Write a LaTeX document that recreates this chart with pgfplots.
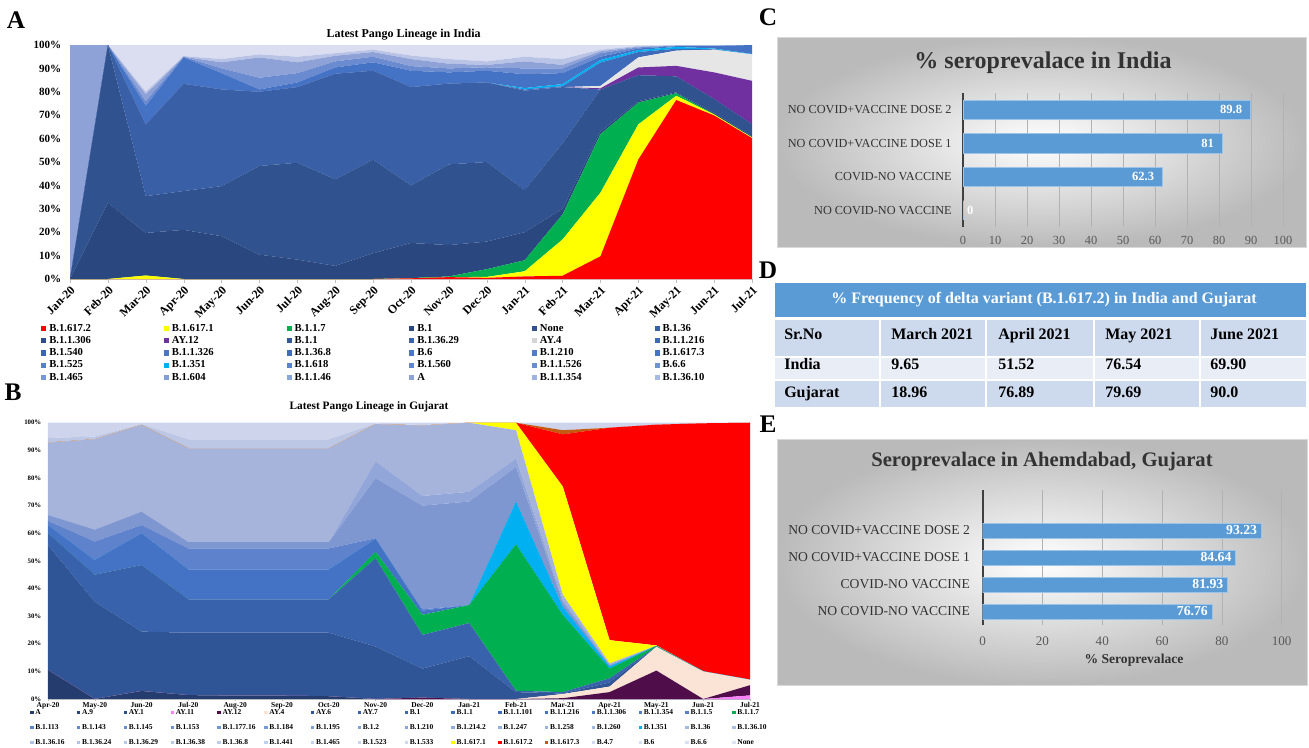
\documentclass[border=0pt]{standalone}
\usepackage{fontspec}
\setmainfont{Liberation Serif}
\usepackage{pgfplots}
\usepackage{pgfplotstable}
\pgfplotsset{compat=1.18}

% India layers
\definecolor{cR}{HTML}{FF0000}
\definecolor{cY}{HTML}{FFFF00}
\definecolor{cG}{HTML}{00B050}
\definecolor{cN1}{HTML}{2B4780}
\definecolor{cN2}{HTML}{30528F}
\definecolor{cM}{HTML}{3960A6}
\definecolor{cP}{HTML}{7030A0}
\definecolor{cA4}{HTML}{E6E6E6}
\definecolor{cB1}{HTML}{3F6ABA}
\definecolor{cC}{HTML}{00B0F0}
\definecolor{cB2}{HTML}{4472C4}
\definecolor{cL1}{HTML}{6A8BD0}
\definecolor{cL2}{HTML}{8FA2D8}
\definecolor{cL3}{HTML}{B9C3E6}
\definecolor{cL4}{HTML}{DADEF0}
% Gujarat layers
\definecolor{gA}{HTML}{243D6E}
\definecolor{gAY11}{HTML}{FF80FF}
\definecolor{gAY12}{HTML}{4F0D4A}
\definecolor{gAY4}{HTML}{FBE3D5}
\definecolor{gN}{HTML}{2F5597}
\definecolor{gN2}{HTML}{3862AC}
\definecolor{gB}{HTML}{4472C4}
\definecolor{gP1}{HTML}{5F82CC}
\definecolor{gP2}{HTML}{7F97D1}
\definecolor{gP3}{HTML}{93A6D9}
\definecolor{gLV}{HTML}{A6B4DC}
\definecolor{gBR}{HTML}{C55A11}
\definecolor{gLV2}{HTML}{BCC6E5}
\definecolor{gPL}{HTML}{CDD4EB}
% bars / table
\definecolor{cBar}{HTML}{5B9BD5}
\definecolor{cBarL}{HTML}{9DC3E6}
\definecolor{cHead}{HTML}{5B9BD5}
\definecolor{cRowA}{HTML}{CDD9ED}
\definecolor{cRowB}{HTML}{E8EDF6}

\pgfplotstableread{
x  R    Y    G    N1   N2   M    P    A4   B1   C    B2   L1   L2   L3   L4
0  0    0    0    0    0    0    0    0    0    0    0    0    100  0    0
1  0    0    0    32.6 67.4 0    0    0    0    0    0    0    0    0    0
2  0    1.5  0    18.2 15.7 30.6 0    0    0    0    8    2    3    1    20
3  0    0    0    21   16.6 45.8 0    0    0    0    11.3 0.3  0    0.3  4.7
4  0    0    0    18.3 21.4 41.3 0    0    0    0    7    2    2.6  1.4  6
5  0    0    0    10.4 37.9 31.7 0    0    0    0    1    5    8.7  1.3  4
6  0    0    0    8.3  41.4 32.3 0    0    0    0    2    4    4.6  2.4  5
7  0    0    0    5.6  37   45.1 0    0    0    0    2.7  2.6  2.4  1.1  3.5
8  0    0    0    11   40   38   0    0    0    0    3.6  2.4  2    1    2
9  0.3  0    0.1  15   24.6 42   0    0    0    0    7    2    3    1.5  4.5
10 0.8  0    0.3  13.4 34.5 34.5 0    0    0    0    4.8  1.7  2    2    6
11 0.5  0.4  3.3  11.8 34   34   0    0    0    0    5    1.5  1    1.5  7
12 1.1  2.2  4.7  12   18   42.5 0    0    0.5  0.6  5.9  2.5  3    2    5
13 1.4  15.5 10.7 2.4  28   24   0    0    0.4  0.9  4.7  2    1.5  2.5  6
14 9.7  27.2 25   1.1  18   0    0.5  1    10   1.1  1.4  1.5  0.8  0.7  2
15 51.1 15   9.3  0.6  11.1 0    3.3  4.3  2.3  0.8  0.7  0.5  0.3  0.3  0.4
16 76.5 1.8  1.1  0.4  6.8  0    4.5  6.5  0.8  0.8  0.3  0.2  0.1  0.1  0.1
17 69.9 0.4  0.1  0.6  5.9  0    11.4 9.7  0.2  0.3  1.0  0.2  0.1  0.1  0.1
18 60.2 0.3  0.1  0.4  5.1  0    18.6 11.3 0    0.2  3.8  0    0    0    0
}\tabIN

\pgfplotstableread{
x  a    ay11 ay12 ay4  n    n2   g    b    c    p1   p2   p3   lv   y    r    br   lv2  pl
0  10.5 0    0    0    45.2 4.3  0    3    0    1.5  2.1  0    26.2 0    0    0    1.7  5.5
1  0    0    0    0    35.2 9.8  0    5.3  0    6.7  4.3  0    32.7 0    0    0    1.0  5.0
2  2.9  0    0    0    21.5 24.1 0    11.5 0    3    4.8  0    31.4 0    0    0    0.3  0.5
3  1.4  0    0    0    22.6 12.1 0    10.8 0    7.6  2.3  0    33.9 0    0    0    3.3  6
4  1.2  0    0    0    22.8 12.1 0    10.8 0    7.6  2.3  0    33.9 0    0    0    3.3  6
5  1.2  0    0    0    22.8 12.1 0    10.8 0    7.6  2.3  0    33.9 0    0    0    3.3  6
6  1.0  0    0    0    23   12.1 0    10.8 0    7.6  2.3  0    33.9 0    0    0    3.3  6
7  0    0    0    0    19   32   2.3  4.7  0    0.2  21.8 6    13.5 0    0    0    0.2  0.3
8  0    0    0.5  0    10.5 12.2 7.3  1.5  0    0.5  37.5 3.5  25.5 0    0    0    0.2  0.8
9  0    0    0    0    15.5 12   6.5  0    0    0    37.5 3.5  25   0    0    0    0    0
10 0    0    0    0    2.5  0.5  53   0    15.5 0    12.5 3    10.3 2.7  0    0    0    0
11 0    0    0.3  1.5  0.2  0.5  27.9 0    3    0    1.6  1    1.7  39.2 18.9 1.5  0    2.7
12 0    0    2.5  2.0  1.5  1.5  3.5  0    0.8  0    0.4  0.3  0.4  8.4  76.9 0    0    1.8
13 0    0    10.3 8.6  0    0    0.3  0    0    0    0    0.1  0    0.1  79.9 0    0    0.7
14 0    0    0    10   0    0    0    0    0    0    0    0    0    0    89.8 0    0    0.2
15 0    1.3  3.7  2.0  0    0    0    0    0    0    0    0    0    0    93   0    0    0
}\tabGU

\pgfplotstableread{
y v
0 0
1 62.3
2 81
3 89.8
}\tabC

\pgfplotstableread{
y v
0 76.76
1 81.93
2 84.64
3 93.23
}\tabE

\begin{document}
\begin{tikzpicture}
\useasboundingbox (0,0) rectangle (981.75pt,-560.25pt);

% ---------- panel labels ----------
\node[font=\bfseries\fontsize{19}{20}\selectfont] at (12pt,-15pt) {A};
\node[font=\bfseries\fontsize{19}{20}\selectfont] at (9.75pt,-294pt) {B};
\node[font=\bfseries\fontsize{19}{20}\selectfont] at (576pt,-12.75pt) {C};
\node[font=\bfseries\fontsize{19}{20}\selectfont] at (576pt,-203pt) {D};
\node[font=\bfseries\fontsize{19}{20}\selectfont] at (576pt,-318.5pt) {E};

% ---------- panel A ----------
\node[font=\bfseries\fontsize{9}{10}\selectfont] at (302.7pt,-25.7pt) {Latest Pango Lineage in India};
\begin{axis}[
  at={(52.5pt,-209.25pt)}, anchor=south west,
  scale only axis, width=511.5pt, height=175.5pt,
  xmin=0, xmax=18, ymin=0, ymax=100,
  stack plots=y,
  axis x line*=bottom, axis y line*=left,
  x axis line style={draw=black!20,-},
  y axis line style={draw=none,-},
  xtick={0,...,18},
  xticklabels={Jan-20,Feb-20,Mar-20,Apr-20,May-20,Jun-20,Jul-20,Aug-20,Sep-20,Oct-20,Nov-20,Dec-20,Jan-21,Feb-21,Mar-21,Apr-21,May-21,Jun-21,Jul-21},
  xticklabel style={rotate=45, anchor=north east, font=\bfseries\fontsize{9}{10}\selectfont, inner sep=1pt},
  ytick={0,10,...,100},
  yticklabel={\pgfmathprintnumber{\tick}\%},
  yticklabel style={font=\bfseries\fontsize{8.3}{9}\selectfont},
  /pgf/number format/assume math mode=true,
  ytick style={draw=none},
  xtick style={draw=black!25},
  tick align=outside, major tick length=3pt,
  legend columns=6,
  legend cell align=left,
  legend image code/.code={\path[#1,draw=none] (0pt,-1.9pt) rectangle (3.8pt,1.9pt);},
  legend style={at={(-0.0425,-0.184)}, anchor=north west, draw=none, fill=none,
     inner sep=0pt, row sep=0pt,
     font=\bfseries\fontsize{8}{9}\selectfont,
     nodes={text width=85pt, inner xsep=1pt, inner ysep=0pt, text height=6.6pt, text depth=2.6pt},
     /tikz/every odd column/.append style={column sep=1.2pt}},
]
\addplot[fill=cR, draw=none, forget plot] table[x=x,y=R]{\tabIN} \closedcycle;
\addplot[fill=cY, draw=none, forget plot] table[x=x,y=Y]{\tabIN} \closedcycle;
\addplot[fill=cG, draw=none, forget plot] table[x=x,y=G]{\tabIN} \closedcycle;
\addplot[fill=cN1, draw=none, forget plot] table[x=x,y=N1]{\tabIN} \closedcycle;
\addplot[fill=cN2, draw=none, forget plot] table[x=x,y=N2]{\tabIN} \closedcycle;
\addplot[fill=cM, draw=none, forget plot] table[x=x,y=M]{\tabIN} \closedcycle;
\addplot[fill=cP, draw=none, forget plot] table[x=x,y=P]{\tabIN} \closedcycle;
\addplot[fill=cA4, draw=none, forget plot] table[x=x,y=A4]{\tabIN} \closedcycle;
\addplot[fill=cB1, draw=none, forget plot] table[x=x,y=B1]{\tabIN} \closedcycle;
\addplot[fill=cC, draw=none, forget plot] table[x=x,y=C]{\tabIN} \closedcycle;
\addplot[fill=cB2, draw=none, forget plot] table[x=x,y=B2]{\tabIN} \closedcycle;
\addplot[fill=cL1, draw=none, forget plot] table[x=x,y=L1]{\tabIN} \closedcycle;
\addplot[fill=cL2, draw=none, forget plot] table[x=x,y=L2]{\tabIN} \closedcycle;
\addplot[fill=cL3, draw=none, forget plot] table[x=x,y=L3]{\tabIN} \closedcycle;
\addplot[fill=cL4, draw=none, forget plot] table[x=x,y=L4]{\tabIN} \closedcycle;
% legend
\addlegendimage{fill=cR}\addlegendentry{B.1.617.2}
\addlegendimage{fill=cY}\addlegendentry{B.1.617.1}
\addlegendimage{fill=cG}\addlegendentry{B.1.1.7}
\addlegendimage{fill=cN1}\addlegendentry{B.1}
\addlegendimage{fill=cN2}\addlegendentry{None}
\addlegendimage{fill=cM}\addlegendentry{B.1.36}
\addlegendimage{fill=cN1!85!cB2}\addlegendentry{B.1.1.306}
\addlegendimage{fill=cP}\addlegendentry{AY.12}
\addlegendimage{fill=cN2!85!cB2}\addlegendentry{B.1.1}
\addlegendimage{fill=cM!85!cB2}\addlegendentry{B.1.36.29}
\addlegendimage{fill=cA4!92!black}\addlegendentry{AY.4}
\addlegendimage{fill=cB1}\addlegendentry{B.1.1.216}
\addlegendimage{fill=cM!70!cB2}\addlegendentry{B.1.540}
\addlegendimage{fill=cB1!92!white}\addlegendentry{B.1.1.326}
\addlegendimage{fill=cB2!95!black}\addlegendentry{B.1.36.8}
\addlegendimage{fill=cB2!97!white}\addlegendentry{B.6}
\addlegendimage{fill=cB2!93!white}\addlegendentry{B.1.210}
\addlegendimage{fill=cB2}\addlegendentry{B.1.617.3}
\addlegendimage{fill=cB2!90!white}\addlegendentry{B.1.525}
\addlegendimage{fill=cC}\addlegendentry{B.1.351}
\addlegendimage{fill=cB2!88!white}\addlegendentry{B.1.618}
\addlegendimage{fill=cB2!85!white}\addlegendentry{B.1.560}
\addlegendimage{fill=cB2!80!white}\addlegendentry{B.1.1.526}
\addlegendimage{fill=cB2!77!white}\addlegendentry{B.6.6}
\addlegendimage{fill=cB2!72!white}\addlegendentry{B.1.465}
\addlegendimage{fill=cB2!68!white}\addlegendentry{B.1.604}
\addlegendimage{fill=cB2!63!white}\addlegendentry{B.1.1.46}
\addlegendimage{fill=cL2}\addlegendentry{A}
\addlegendimage{fill=cB2!53!white}\addlegendentry{B.1.1.354}
\addlegendimage{fill=cB2!48!white}\addlegendentry{B.1.36.10}
\end{axis}

% ---------- panel B ----------
\node[font=\bfseries\fontsize{8.5}{10}\selectfont] at (276.75pt,-305pt) {Latest Pango Lineage in Gujarat};
\begin{axis}[
  at={(36pt,-524.25pt)}, anchor=south west,
  scale only axis, width=526.5pt, height=207.2pt,
  xmin=0, xmax=15, ymin=0, ymax=100,
  stack plots=y,
  axis x line*=bottom, axis y line*=left,
  x axis line style={draw=black!20,-},
  y axis line style={draw=none,-},
  xtick={0,...,15},
  xticklabels={Apr-20,May-20,Jun-20,Jul-20,Aug-20,Sep-20,Oct-20,Nov-20,Dec-20,Jan-21,Feb-21,Mar-21,Apr-21,May-21,Jun-21,Jul-21},
  xticklabel style={font=\bfseries\fontsize{5.6}{6}\selectfont, inner sep=0.5pt, yshift=-0.6pt},
  ytick={0,10,...,100},
  yticklabel={\pgfmathprintnumber{\tick}\%},
  yticklabel style={font=\bfseries\fontsize{5.1}{6}\selectfont},
  /pgf/number format/assume math mode=true,
  ytick style={draw=none},
  xtick style={draw=black!25},
  tick align=outside, major tick length=1.5pt,
  legend columns=16,
  legend cell align=left,
  legend image code/.code={\path[#1,draw=none] (0pt,-1.2pt) rectangle (2.5pt,1.2pt);},
  legend style={at={(-0.0256,-0.034)}, anchor=north west, draw=none, fill=none,
     inner sep=0pt, row sep=5.25pt,
     font=\bfseries\fontsize{5.6}{6}\selectfont,
     nodes={text width=31pt, inner xsep=0.3pt, inner ysep=0pt, text height=4.3pt, text depth=1.7pt},
     /tikz/every odd column/.append style={column sep=1pt}},
]
\addplot[fill=gA, draw=none, forget plot] table[x=x,y=a]{\tabGU} \closedcycle;
\addplot[fill=gAY11, draw=none, forget plot] table[x=x,y=ay11]{\tabGU} \closedcycle;
\addplot[fill=gAY12, draw=none, forget plot] table[x=x,y=ay12]{\tabGU} \closedcycle;
\addplot[fill=gAY4, draw=none, forget plot] table[x=x,y=ay4]{\tabGU} \closedcycle;
\addplot[fill=gN, draw=none, forget plot] table[x=x,y=n]{\tabGU} \closedcycle;
\addplot[fill=gN2, draw=none, forget plot] table[x=x,y=n2]{\tabGU} \closedcycle;
\addplot[fill=cG, draw=none, forget plot] table[x=x,y=g]{\tabGU} \closedcycle;
\addplot[fill=gB, draw=none, forget plot] table[x=x,y=b]{\tabGU} \closedcycle;
\addplot[fill=cC, draw=none, forget plot] table[x=x,y=c]{\tabGU} \closedcycle;
\addplot[fill=gP1, draw=none, forget plot] table[x=x,y=p1]{\tabGU} \closedcycle;
\addplot[fill=gP2, draw=none, forget plot] table[x=x,y=p2]{\tabGU} \closedcycle;
\addplot[fill=gP3, draw=none, forget plot] table[x=x,y=p3]{\tabGU} \closedcycle;
\addplot[fill=gLV, draw=none, forget plot] table[x=x,y=lv]{\tabGU} \closedcycle;
\addplot[fill=cY, draw=none, forget plot] table[x=x,y=y]{\tabGU} \closedcycle;
\addplot[fill=cR, draw=none, forget plot] table[x=x,y=r]{\tabGU} \closedcycle;
\addplot[fill=gBR, draw=none, forget plot] table[x=x,y=br]{\tabGU} \closedcycle;
\addplot[fill=gLV2, draw=none, forget plot] table[x=x,y=lv2]{\tabGU} \closedcycle;
\addplot[fill=gPL, draw=none, forget plot] table[x=x,y=pl]{\tabGU} \closedcycle;
% legend row 1
\addlegendimage{fill=gA}\addlegendentry{A}
\addlegendimage{fill=gA!60!gN}\addlegendentry{A.9}
\addlegendimage{fill=gA!30!gN}\addlegendentry{AY.1}
\addlegendimage{fill=gAY11}\addlegendentry{AY.11}
\addlegendimage{fill=gAY12}\addlegendentry{AY.12}
\addlegendimage{fill=gAY4}\addlegendentry{AY.4}
\addlegendimage{fill=gN}\addlegendentry{AY.6}
\addlegendimage{fill=gN2}\addlegendentry{AY.7}
\addlegendimage{fill=gN2!70!gB}\addlegendentry{B.1}
\addlegendimage{fill=gN2!40!gB}\addlegendentry{B.1.1}
\addlegendimage{fill=gB!95!black}\addlegendentry{B.1.1.101}
\addlegendimage{fill=gB}\addlegendentry{B.1.1.216}
\addlegendimage{fill=gB!96!white}\addlegendentry{B.1.1.306}
\addlegendimage{fill=gB!93!white}\addlegendentry{B.1.1.354}
\addlegendimage{fill=gB!90!white}\addlegendentry{B.1.1.5}
\addlegendimage{fill=cG}\addlegendentry{B.1.1.7}
% row 2
\addlegendimage{fill=gB!87!white}\addlegendentry{B.1.113}
\addlegendimage{fill=gB!84!white}\addlegendentry{B.1.143}
\addlegendimage{fill=gB!81!white}\addlegendentry{B.1.145}
\addlegendimage{fill=gB!78!white}\addlegendentry{B.1.153}
\addlegendimage{fill=gB!75!white}\addlegendentry{B.1.177.16}
\addlegendimage{fill=gB!72!white}\addlegendentry{B.1.184}
\addlegendimage{fill=gB!69!white}\addlegendentry{B.1.195}
\addlegendimage{fill=gB!66!white}\addlegendentry{B.1.2}
\addlegendimage{fill=gB!63!white}\addlegendentry{B.1.210}
\addlegendimage{fill=gB!60!white}\addlegendentry{B.1.214.2}
\addlegendimage{fill=gB!57!white}\addlegendentry{B.1.247}
\addlegendimage{fill=gB!54!white}\addlegendentry{B.1.258}
\addlegendimage{fill=gB!51!white}\addlegendentry{B.1.260}
\addlegendimage{fill=cC}\addlegendentry{B.1.351}
\addlegendimage{fill=gB!48!white}\addlegendentry{B.1.36}
\addlegendimage{fill=gB!45!white}\addlegendentry{B.1.36.10}
% row 3
\addlegendimage{fill=gB!43!white}\addlegendentry{B.1.36.16}
\addlegendimage{fill=gB!41!white}\addlegendentry{B.1.36.24}
\addlegendimage{fill=gB!39!white}\addlegendentry{B.1.36.29}
\addlegendimage{fill=gB!37!white}\addlegendentry{B.1.36.38}
\addlegendimage{fill=gB!35!white}\addlegendentry{B.1.36.8}
\addlegendimage{fill=gB!33!white}\addlegendentry{B.1.441}
\addlegendimage{fill=gB!31!white}\addlegendentry{B.1.465}
\addlegendimage{fill=gB!29!white}\addlegendentry{B.1.523}
\addlegendimage{fill=gB!27!white}\addlegendentry{B.1.533}
\addlegendimage{fill=cY}\addlegendentry{B.1.617.1}
\addlegendimage{fill=cR}\addlegendentry{B.1.617.2}
\addlegendimage{fill=gBR}\addlegendentry{B.1.617.3}
\addlegendimage{fill=gB!25!white}\addlegendentry{B.4.7}
\addlegendimage{fill=gB!23!white}\addlegendentry{B.6}
\addlegendimage{fill=gB!21!white}\addlegendentry{B.6.6}
\addlegendimage{fill=gB!18!white}\addlegendentry{None}
\end{axis}

% ---------- panel C ----------
\shade[inner color=white, outer color=black!27] (582.75pt,-27.75pt) rectangle (979.5pt,-185.25pt);
\draw[black!15, line width=0.6pt] (582.75pt,-27.75pt) rectangle (979.5pt,-185.25pt);
\node[font=\bfseries\fontsize{18}{20}\selectfont, text=black!80] at (782.25pt,-47.25pt) {\% seroprevalace in India};
\begin{axis}[
  at={(722.25pt,-170.25pt)}, anchor=south west,
  scale only axis, width=240pt, height=100.5pt,
  xbar, bar width=14.5pt,
  xmin=0, xmax=100, ymin=-0.5, ymax=3.5,
  xtick={0,10,...,100},
  ytick={0,1,2,3},
  yticklabels={NO COVID-NO VACCINE, COVID-NO VACCINE, NO COVID+VACCINE DOSE 1, NO COVID+VACCINE DOSE 2},
  axis line style={draw=none},
  major tick length=0pt,
  xmajorgrids, grid style={black!30, line width=0.5pt},
  extra x ticks={0}, extra x tick labels={\mbox{}},
  extra x tick style={grid style={black!75, line width=1.5pt}},
  /pgf/number format/assume math mode=true,
  xticklabel style={font=\fontsize{9.3}{10}\selectfont, text=black!65, yshift=-3.5pt},
  yticklabel style={font=\fontsize{9.2}{10}\selectfont, text=black!80, xshift=-5pt},
  point meta=x,
  nodes near coords={\pgfmathprintnumber{\pgfplotspointmeta}},
  visualization depends on={rawx \as \rawx},
  every node near coord/.append style={anchor=east, xshift={ifthenelse(\rawx<1,13,-1)}, font=\bfseries\fontsize{9.4}{10}\selectfont, text=white, inner xsep=5pt},
]
\addplot[fill=cBar, draw=cBarL, line width=0.5pt] table[x=v, y=y]{\tabC};
\end{axis}

% ---------- panel D ----------
\fill[cHead] (581.25pt,-212.25pt) rectangle (979.5pt,-237.75pt);
\node[text=white, font=\bfseries\fontsize{12}{14}\selectfont] at (783pt,-225pt) {\% Frequency of delta variant (B.1.617.2) in India and Gujarat};
\fill[cRowA] (581.25pt,-240pt) rectangle (979.5pt,-267.75pt);
\fill[cRowB] (581.25pt,-267.75pt) rectangle (979.5pt,-285pt);
\fill[cRowA] (581.25pt,-285pt) rectangle (979.5pt,-305.25pt);
\foreach \xx in {660,739.5,820.5,900} \draw[white, line width=1.6pt] (\xx pt,-240pt) -- (\xx pt,-305.25pt);
\draw[white, line width=1.6pt] (581.25pt,-267.75pt) -- (979.5pt,-267.75pt);
\draw[white, line width=1.6pt] (581.25pt,-285pt) -- (979.5pt,-285pt);
\begin{scope}[every node/.style={anchor=west, inner sep=0pt, text height=8pt, text depth=2.5pt, font=\bfseries\fontsize{12}{14}\selectfont}]
\node at (588pt,-252pt) {Sr.No};
\node at (668.25pt,-252pt) {March 2021};
\node at (748.5pt,-252pt) {April 2021};
\node at (828.75pt,-252pt) {May 2021};
\node at (907.5pt,-252pt) {June 2021};
\node at (588pt,-274.5pt) {India};
\node at (668.25pt,-274.5pt) {9.65};
\node at (748.5pt,-274.5pt) {51.52};
\node at (828.75pt,-274.5pt) {76.54};
\node at (907.5pt,-274.5pt) {69.90};
\node at (588pt,-295pt) {Gujarat};
\node at (668.25pt,-295pt) {18.96};
\node at (748.5pt,-295pt) {76.89};
\node at (828.75pt,-295pt) {79.69};
\node at (907.5pt,-295pt) {90.0};
\end{scope}

% ---------- panel E ----------
\shade[inner color=white, outer color=black!27] (582.75pt,-329.25pt) rectangle (980.25pt,-513.75pt);
\draw[black!15, line width=0.6pt] (582.75pt,-329.25pt) rectangle (980.25pt,-513.75pt);
\node[font=\bfseries\fontsize{15.5}{18}\selectfont, text=black!80] at (781.5pt,-346.3pt) {Seroprevalace in Ahemdabad, Gujarat};
\begin{axis}[
  at={(737pt,-468.75pt)}, anchor=south west,
  scale only axis, width=224.25pt, height=101.25pt,
  xbar, bar width=11.25pt,
  xmin=0, xmax=100, ymin=-0.5, ymax=4.5,
  xtick={0,20,...,100},
  ytick={0,1,2,3},
  yticklabels={NO COVID-NO VACCINE, COVID-NO VACCINE, NO COVID+VACCINE DOSE 1, NO COVID+VACCINE DOSE 2},
  axis line style={draw=none},
  major tick length=0pt,
  xmajorgrids, grid style={black!30, line width=0.5pt},
  extra x ticks={0}, extra x tick labels={\mbox{}},
  extra x tick style={grid style={black!75, line width=1.5pt}},
  /pgf/number format/assume math mode=true,
  xticklabel style={font=\fontsize{9.8}{11}\selectfont, text=black!65, yshift=-5pt},
  yticklabel style={font=\fontsize{10.2}{11}\selectfont, text=black!80, xshift=-6pt},
  point meta=x,
  nodes near coords={\pgfmathprintnumber[fixed,fixed zerofill,precision=2]{\pgfplotspointmeta}},
  every node near coord/.append style={anchor=east, font=\bfseries\fontsize{10.3}{11}\selectfont, text=white, inner xsep=3pt},
]
\addplot[fill=cBar, draw=cBarL, line width=0.5pt] table[x=v, y=y]{\tabE};
\end{axis}
\node[font=\bfseries\fontsize{10.2}{11}\selectfont, text=black!80] at (850.5pt,-495.5pt) {\% Seroprevalace};

\end{tikzpicture}
\end{document}
